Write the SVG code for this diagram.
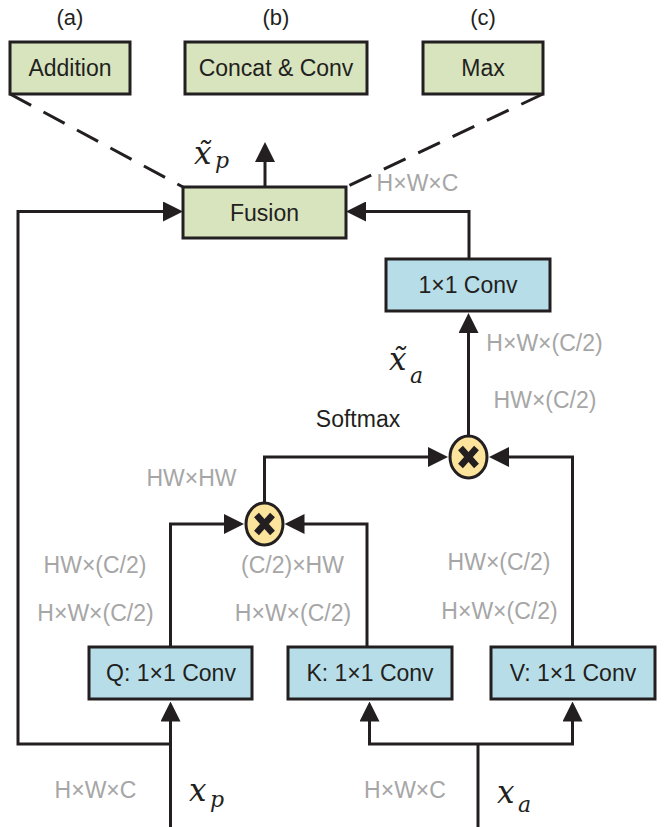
<svg xmlns="http://www.w3.org/2000/svg" width="670" height="827" viewBox="0 0 670 827">
<style>
  .box{stroke:#231f20;stroke-width:3}
  .green{fill:#d7e4bd}
  .blue{fill:#b7dee8}
  .lbl{font-family:"Liberation Sans",Arial,sans-serif;font-size:23px;fill:#231f20;text-anchor:middle}
  .dim{font-family:"Liberation Sans",Arial,sans-serif;font-size:23px;fill:#a6a6a6;text-anchor:middle}
  .math{font-family:"DejaVu Serif","Liberation Serif",serif;font-style:italic;fill:#231f20;font-size:31px}
  .sub{font-size:22px}
  .wire{fill:none;stroke:#231f20;stroke-width:3}
  .dash{fill:none;stroke:#231f20;stroke-width:3;stroke-dasharray:24 14}
  .mul{fill:#fce49c;stroke:#231f20;stroke-width:3}
  .xm{fill:none;stroke:#231f20;stroke-width:6.5}
</style>
<defs>
  <marker id="ah" markerUnits="userSpaceOnUse" markerWidth="20" markerHeight="20" viewBox="0 0 20 20" refX="10" refY="10" orient="auto">
    <path d="M0,0 L20,10 L0,20 z" fill="#231f20"/>
  </marker>
</defs>

<g id="connectors">
  <path class="dash" d="M10,94 L183,187"/>
  <path class="dash" d="M543,94 L346,187"/>
  <path class="wire" marker-end="url(#ah)" d="M265,187 V152"/>
  <path class="wire" marker-end="url(#ah)" d="M170.5,827 V711.5"/>
  <path class="wire" marker-end="url(#ah)" d="M170.5,744 H18 V211.5 H173"/>
  <path class="wire" d="M478,827 V744"/>
  <path class="wire" marker-end="url(#ah)" d="M478,744 H369.5 V711.5"/>
  <path class="wire" marker-end="url(#ah)" d="M478,744 H572.5 V711.5"/>
  <path class="wire" marker-end="url(#ah)" d="M170.5,647 V524 H234"/>
  <path class="wire" marker-end="url(#ah)" d="M367,647 V524 H294.5"/>
  <path class="wire" marker-end="url(#ah)" d="M264.5,502 V457 H438"/>
  <path class="wire" marker-end="url(#ah)" d="M572.5,647 V457 H499"/>
  <path class="wire" marker-end="url(#ah)" d="M468.5,436 V323"/>
  <path class="wire" marker-end="url(#ah)" d="M469,259 V211.5 H356"/>
</g>

<g id="addition">
  <rect class="box green" x="10" y="42" width="120" height="52"/>
  <text class="lbl" x="70" y="76">Addition</text>
  <text class="lbl" x="70" y="25" style="font-size:22px">(a)</text>
</g>
<g id="concat">
  <rect class="box green" x="185" y="42" width="182" height="52"/>
  <text class="lbl" x="276" y="76">Concat &amp; Conv</text>
  <text class="lbl" x="276" y="25" style="font-size:22px">(b)</text>
</g>
<g id="max">
  <rect class="box green" x="423" y="42" width="120" height="52"/>
  <text class="lbl" x="483" y="76">Max</text>
  <text class="lbl" x="483" y="25" style="font-size:22px">(c)</text>
</g>
<g id="fusion">
  <rect class="box green" x="183" y="187" width="163" height="51"/>
  <text class="lbl" x="264.5" y="220.5">Fusion</text>
</g>
<g id="conv-out">
  <rect class="box blue" x="386" y="259" width="164" height="52"/>
  <text class="lbl" x="468" y="293">1×1 Conv</text>
</g>
<g id="conv-q">
  <rect class="box blue" x="89" y="647" width="163" height="52"/>
  <text class="lbl" x="171" y="681">Q: 1×1 Conv</text>
</g>
<g id="conv-k">
  <rect class="box blue" x="288" y="647" width="164" height="52"/>
  <text class="lbl" x="370" y="681">K: 1×1 Conv</text>
</g>
<g id="conv-v">
  <rect class="box blue" x="491" y="647" width="164" height="52"/>
  <text class="lbl" x="573" y="681">V: 1×1 Conv</text>
</g>
<g id="mul1">
  <ellipse class="mul" cx="264.5" cy="524" rx="18.5" ry="21"/>
  <path class="xm" d="M256.5,515 L272.5,533 M272.5,515 L256.5,533"/>
</g>
<g id="mul2">
  <ellipse class="mul" cx="468.5" cy="457" rx="18.5" ry="21"/>
  <path class="xm" d="M460.5,448 L476.5,466 M476.5,448 L460.5,466"/>
</g>

<g id="labels">
  <text class="dim" x="417.5" y="191">H×W×C</text>
  <text class="dim" x="544.5" y="351">H×W×(C/2)</text>
  <text class="dim" x="545" y="408">HW×(C/2)</text>
  <text class="lbl" x="358" y="426.5">Softmax</text>
  <text class="dim" x="191.5" y="486">HW×HW</text>
  <text class="dim" x="95" y="572.5">HW×(C/2)</text>
  <text class="dim" x="95.5" y="621">H×W×(C/2)</text>
  <text class="dim" x="292.5" y="572.5">(C/2)×HW</text>
  <text class="dim" x="293" y="621">H×W×(C/2)</text>
  <text class="dim" x="499" y="570">HW×(C/2)</text>
  <text class="dim" x="499.5" y="619">H×W×(C/2)</text>
  <text class="dim" x="95.5" y="798">H×W×C</text>
  <text class="dim" x="405" y="798">H×W×C</text>
  <text class="math" x="194" y="163.5">x&#x303;<tspan class="sub" x="215" y="167.5">p</tspan></text>
  <text class="math" x="389" y="370">x&#x303;<tspan class="sub" x="410" y="383">a</tspan></text>
  <text class="math" x="189" y="800.5">x<tspan class="sub" x="210" y="806.5">p</tspan></text>
  <text class="math" x="497" y="803">x<tspan class="sub" x="518" y="811.5">a</tspan></text>
</g>
</svg>
